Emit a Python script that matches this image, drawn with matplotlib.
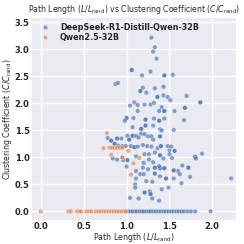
import matplotlib
matplotlib.use("Agg")
import matplotlib.pyplot as plt
import seaborn as sns
import pandas as pd

sns.set_theme(style="darkgrid")
plt.rcParams['font.family'] = ['DejaVu Sans']

models = ["DeepSeek-R1-Distill-Qwen-32B", "Qwen2.5-32B"]

ds_x = [1.29, 1.33, 1.31, 1.35,
        1.06, 1.06, 1.28, 1.18, 1.44, 1.44, 1.54,
        0.87, 0.90,
        1.19, 1.16, 1.16, 1.33, 1.43, 1.23,
        1.36, 1.36, 1.43, 1.48, 1.51, 1.70, 1.86, 1.86,
        1.09, 1.13, 1.04, 1.21, 1.28, 1.32, 1.41, 1.44, 1.44, 1.38, 1.68, 1.68, 1.56, 1.13,
        1.00, 1.00, 0.98, 1.08, 1.22, 1.22, 1.32, 1.38, 1.38, 1.44, 1.67,
        1.22, 1.22, 1.07, 1.31, 1.39, 1.41, 1.55, 1.17, 1.17,
        0.78, 0.82, 0.82, 0.89, 0.89, 0.94, 1.01, 1.07, 1.07, 1.11, 1.17, 1.21, 1.14, 1.25, 1.29, 1.31, 1.39, 1.39, 1.03, 1.03,
        0.86, 0.86, 0.90, 0.95, 0.99, 1.05, 1.09, 1.09, 1.13, 1.19, 1.24, 1.29, 1.36, 1.40, 1.40, 1.48, 1.52, 1.50, 1.56, 1.56,
        0.84, 0.89, 1.01, 1.01, 0.96, 1.00, 1.11, 1.21, 1.26, 1.33, 1.39, 1.39, 1.43, 1.50, 1.53, 1.80, 1.80, 1.81, 1.88,
        1.20, 1.26, 1.31, 1.19, 1.25, 1.33, 1.33, 1.39, 1.39, 1.44, 1.44, 1.65, 1.72, 1.72, 1.60, 1.55, 1.55, 1.38,
        1.11, 1.16, 1.20, 1.33, 1.33, 1.39, 1.46, 1.46, 1.55, 1.62, 1.74, 2.22, 1.11, 1.23, 1.30,
        1.41, 1.49, 1.64, 1.10, 1.10, 1.21, 1.21, 1.27, 1.28, 1.28, 1.04, 1.14, 1.30, 1.38,
        1.02, 1.05, 1.07, 1.10, 1.12, 1.15, 1.18, 1.20, 1.23, 1.26, 1.28, 1.31, 1.34, 1.37,
        1.40, 1.43, 1.46, 1.49, 1.52, 1.55, 1.58, 1.61, 1.64, 1.67, 1.71, 1.75, 1.80, 1.98]
ds_y = [3.22, 3.04, 2.96, 2.83,
        2.62, 2.62, 2.59, 2.52, 2.52, 2.52, 2.53,
        2.36, 2.38,
        2.29, 2.23, 2.23, 2.28, 2.31, 2.20,
        2.12, 2.12, 2.15, 2.12, 2.06, 2.14, 2.02, 2.02,
        2.02, 1.97, 1.96, 1.98, 1.98, 2.01, 1.93, 1.86, 1.86, 1.86, 1.92, 1.92, 1.86, 1.86,
        1.73, 1.73, 1.68, 1.73, 1.70, 1.70, 1.72, 1.68, 1.68, 1.72, 1.69,
        1.59, 1.59, 1.56, 1.59, 1.52, 1.50, 1.51, 1.53, 1.53,
        1.36, 1.31, 1.31, 1.35, 1.35, 1.35, 1.40, 1.40, 1.40, 1.40, 1.44, 1.43, 1.37, 1.39, 1.39, 1.33, 1.39, 1.39, 1.33, 1.33,
        1.25, 1.25, 1.22, 1.21, 1.21, 1.21, 1.19, 1.19, 1.20, 1.23, 1.21, 1.20, 1.17, 1.21, 1.21, 1.21, 1.20, 1.13, 1.12, 1.12,
        0.98, 0.96, 0.95, 0.95, 0.95, 0.83, 1.02, 1.06, 1.06, 1.09, 1.04, 1.04, 0.98, 1.06, 0.99, 1.01, 1.01, 0.98, 1.07,
        0.90, 0.96, 0.91, 0.81, 0.78, 0.81, 0.81, 0.80, 0.80, 0.80, 0.80, 0.85, 0.81, 0.81, 0.75, 0.76, 0.76, 0.84,
        0.75, 0.69, 0.69, 0.70, 0.70, 0.65, 0.61, 0.61, 0.61, 0.69, 0.64, 0.61, 0.61, 0.56, 0.55,
        0.41, 0.44, 0.52, 0.50, 0.44, 0.35, 0.35, 0.37, 0.32, 0.32, 0.25, 0.24, 0.24, 0.20,
        0.0, 0.0, 0.0, 0.0, 0.0, 0.0, 0.0, 0.0, 0.0, 0.0, 0.0, 0.0, 0.0, 0.0,
        0.0, 0.0, 0.0, 0.0, 0.0, 0.0, 0.0, 0.0, 0.0, 0.0, 0.0, 0.0, 0.0, 0.0]

qw_x = [0.77, 0.73, 0.80, 0.83, 0.86, 0.89, 0.92, 0.95, 1.02, 0.82, 0.95, 0.95, 1.15, 1.08, 1.05,
        0.00, 0.32, 0.35, 0.42, 0.45, 0.47, 0.53, 0.56, 0.59, 0.64, 0.67, 0.70, 0.73, 0.76,
        0.79, 0.82, 0.85, 0.88, 0.91, 0.94, 0.97, 0.99]
qw_y = [1.45, 1.17, 1.18, 1.18, 1.18, 1.18, 1.18, 1.18, 1.12, 1.05, 1.00, 1.00, 0.99, 0.89, 0.68,
        0.0, 0.0, 0.0, 0.0, 0.0, 0.0, 0.0, 0.0, 0.0, 0.0, 0.0, 0.0, 0.0, 0.0,
        0.0, 0.0, 0.0, 0.0, 0.0, 0.0, 0.0, 0.0]

df = pd.DataFrame({
    "L": ds_x + qw_x,
    "C": ds_y + qw_y,
    "model": [models[0]] * len(ds_x) + [models[1]] * len(qw_x),
})

fig = plt.figure(figsize=(2.44, 2.44), dpi=100)
ax = fig.add_axes([0.127, 0.096, 0.845, 0.834])
sns.scatterplot(data=df, x="L", y="C", hue="model", hue_order=models, ax=ax,
                s=11, alpha=0.65, edgecolor="white", linewidth=0.3)
ax.set_xlim(-0.115, 2.29)
ax.set_ylim(-0.17, 3.6)
ax.set_xticks([0.0, 0.5, 1.0, 1.5, 2.0])
ax.set_yticks([0.0, 0.5, 1.0, 1.5, 2.0, 2.5, 3.0, 3.5])
ax.tick_params(labelsize=6, pad=1.0, length=0)
for lab in ax.get_xticklabels() + ax.get_yticklabels():
    lab.set_fontweight("bold")
ax.set_xlabel(r"Path Length ($L/L_{\rm rand}$)", fontsize=5.7, labelpad=0.3)
ax.set_ylabel(r"Clustering Coefficient ($C/C_{\rm rand}$)", fontsize=5.7, labelpad=0.5)
ax.set_title(r"Path Length ($L/L_{\rm rand}$) vs Clustering Coefficient ($C/C_{\rm rand}$)",
             fontsize=5.6, pad=4)
ax.legend(loc="upper left", frameon=False, prop={"weight": "bold", "size": 5.8},
          handletextpad=0.9, borderaxespad=0.3, labelspacing=0.1)
fig.savefig("out.png", dpi=100)
